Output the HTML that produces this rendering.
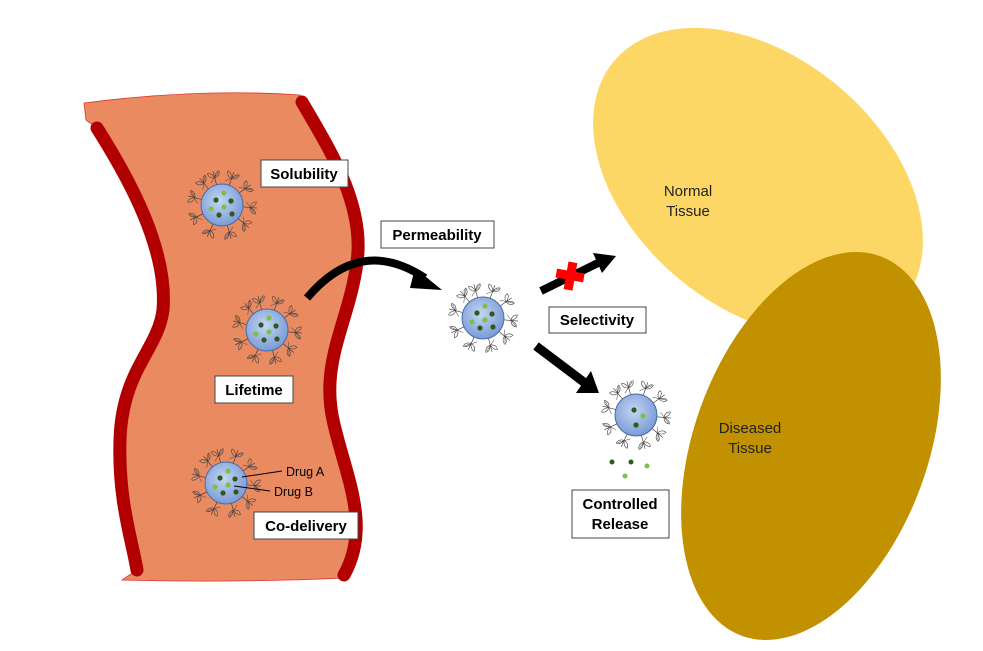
<!DOCTYPE html>
<html><head><meta charset="utf-8"><style>
html,body{margin:0;padding:0;background:#fff}
svg{display:block}
.lb{font-family:"Liberation Sans",sans-serif;font-weight:bold;font-size:15px;fill:#000}
.box{fill:#fff;stroke:#444;stroke-width:1}
.tt{font-family:"Liberation Sans",sans-serif;font-size:15px;fill:#222}
</style></head><body>
<svg width="983" height="651" viewBox="0 0 983 651" xmlns="http://www.w3.org/2000/svg">
<defs>
<radialGradient id="g" cx="0.45" cy="0.4" r="0.6">
<stop offset="0" stop-color="#c4d6f2"/><stop offset="1" stop-color="#7a9bd6"/></radialGradient>
<g id="lig">
<line x1="0" y1="-14" x2="0" y2="-35" stroke="#333" stroke-width="0.6"/>
<path d="M0,-28 q-6,-1 -6,-6 q4,0 6,6 q6,-1 6,-6 q-4,0 -6,6" fill="none" stroke="#444" stroke-width="0.6"/>
<line x1="-5" y1="-24" x2="5" y2="-33" stroke="#444" stroke-width="0.5"/>
</g>
<g id="np">
<use href="#lig" transform="rotate(-15)"/><use href="#lig" transform="rotate(20)"/>
<use href="#lig" transform="rotate(55)"/><use href="#lig" transform="rotate(95)"/>
<use href="#lig" transform="rotate(130)"/><use href="#lig" transform="rotate(165)"/>
<use href="#lig" transform="rotate(205)"/><use href="#lig" transform="rotate(245)"/>
<use href="#lig" transform="rotate(285)"/><use href="#lig" transform="rotate(320)"/>
<circle r="21" fill="url(#g)" stroke="#4a6aa8" stroke-width="1"/>
<circle cx="2" cy="-12" r="2.6" fill="#7cc04a"/><circle cx="-6" cy="-5" r="2.6" fill="#2f5a1e"/>
<circle cx="9" cy="-4" r="2.6" fill="#2f5a1e"/><circle cx="2" cy="2" r="2.6" fill="#7cc04a"/>
<circle cx="-11" cy="4" r="2.6" fill="#7cc04a"/><circle cx="-3" cy="10" r="2.6" fill="#2f5a1e"/>
<circle cx="10" cy="9" r="2.6" fill="#2f5a1e"/>
</g>
<g id="np2">
<use href="#lig" transform="rotate(-15)"/><use href="#lig" transform="rotate(20)"/>
<use href="#lig" transform="rotate(55)"/><use href="#lig" transform="rotate(95)"/>
<use href="#lig" transform="rotate(130)"/><use href="#lig" transform="rotate(165)"/>
<use href="#lig" transform="rotate(205)"/><use href="#lig" transform="rotate(245)"/>
<use href="#lig" transform="rotate(285)"/><use href="#lig" transform="rotate(320)"/>
<circle r="21" fill="url(#g)" stroke="#4a6aa8" stroke-width="1"/>
<circle cx="-2" cy="-5" r="2.6" fill="#2f5a1e"/><circle cx="7" cy="1" r="2.6" fill="#7cc04a"/>
<circle cx="0" cy="10" r="2.6" fill="#2f5a1e"/>
</g>
</defs>
<!-- vessel -->
<path d="M84,103 Q200,88 300,95 C335,150 372,205 360,262 C350,320 322,360 335,420 C350,480 378,530 348,578 Q230,583 122,580 L137,570 C132,540 118,500 120,440 C122,370 158,350 163,310 C168,250 130,180 97,128 L86,120 Z" fill="#e98a60" stroke="#d33" stroke-width="0.8"/>
<path d="M97,128 C130,180 168,250 163,310 C158,350 122,370 120,440 C118,500 132,540 137,570" fill="none" stroke="#b20000" stroke-width="13" stroke-linecap="round"/>
<path d="M302,102 C330,150 365,205 357,262 C350,320 320,360 333,420 C345,475 372,525 344,575" fill="none" stroke="#b20000" stroke-width="13" stroke-linecap="round"/>
<!-- tissues -->
<ellipse cx="758" cy="182" rx="188" ry="125" transform="rotate(40 758 182)" fill="#fdd766"/>
<ellipse cx="811" cy="446" rx="117" ry="202" transform="rotate(20 811 446)" fill="#c19100"/>
<text x="688" y="196" class="tt" text-anchor="middle">Normal</text>
<text x="688" y="216" class="tt" text-anchor="middle">Tissue</text>
<text x="750" y="433" class="tt" text-anchor="middle">Diseased</text>
<text x="750" y="453" class="tt" text-anchor="middle">Tissue</text>
<!-- particles -->
<use href="#np" x="222" y="205"/>
<use href="#np" x="267" y="330"/>
<use href="#np" x="226" y="483"/>
<use href="#np" x="483" y="318"/>
<use href="#np2" x="636" y="415"/>
<circle cx="612" cy="462" r="2.5" fill="#2f5a1e"/><circle cx="631" cy="462" r="2.5" fill="#2f5a1e"/>
<circle cx="647" cy="466" r="2.5" fill="#7cc04a"/><circle cx="625" cy="476" r="2.5" fill="#7cc04a"/>
<!-- drug labels -->
<line x1="242" y1="477" x2="282" y2="471" stroke="#000" stroke-width="1"/>
<line x1="234" y1="486" x2="270" y2="491" stroke="#000" stroke-width="1"/>
<text x="286" y="476" font-family="Liberation Sans,sans-serif" font-size="12.5">Drug A</text>
<text x="274" y="496" font-family="Liberation Sans,sans-serif" font-size="12.5">Drug B</text>
<!-- arrows -->
<path d="M307,298 Q360,235 425,278" fill="none" stroke="#000" stroke-width="8"/>
<polygon points="415,268 442,290 410,288" fill="#000"/>
<line x1="541" y1="291" x2="600" y2="262" stroke="#000" stroke-width="8"/>
<polygon points="593,253 616,256 602,273" fill="#000"/>
<g transform="rotate(10 570 276)"><rect x="566" y="262" width="9" height="28" fill="#f00"/><rect x="556" y="271" width="28" height="9" fill="#f00"/></g>
<line x1="536" y1="346" x2="585" y2="383" stroke="#000" stroke-width="9"/>
<polygon points="576,393 599,393 591,371" fill="#000"/>
<!-- label boxes -->
<rect x="261" y="160" width="87" height="27" class="box"/><text x="304" y="179" class="lb" text-anchor="middle">Solubility</text>
<rect x="381" y="221" width="113" height="27" class="box"/><text x="437" y="240" class="lb" text-anchor="middle">Permeability</text>
<rect x="215" y="376" width="78" height="27" class="box"/><text x="254" y="395" class="lb" text-anchor="middle">Lifetime</text>
<rect x="254" y="512" width="104" height="27" class="box"/><text x="306" y="531" class="lb" text-anchor="middle">Co-delivery</text>
<rect x="549" y="307" width="97" height="26" class="box"/><text x="597" y="325" class="lb" text-anchor="middle">Selectivity</text>
<rect x="572" y="490" width="97" height="48" class="box"/>
<text x="620" y="509" class="lb" text-anchor="middle">Controlled</text>
<text x="620" y="529" class="lb" text-anchor="middle">Release</text>
</svg>
</body></html>
